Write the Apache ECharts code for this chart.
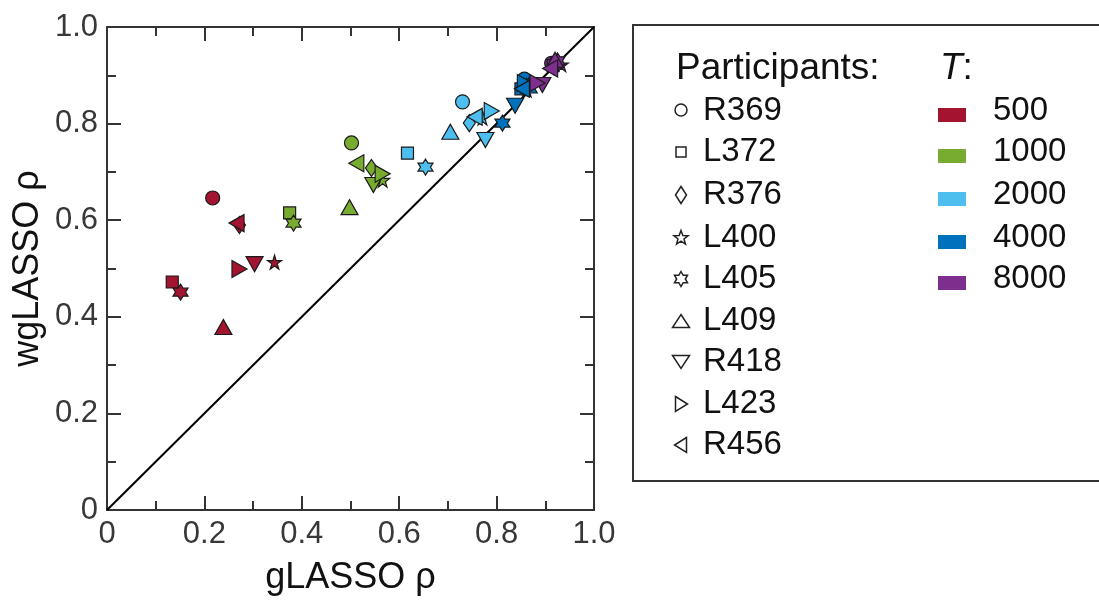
<!DOCTYPE html>
<html>
<head>
<meta charset="utf-8">
<script src="https://cdn.jsdelivr.net/npm/echarts@6/dist/echarts.min.js"></script>
<style>
html,body{margin:0;padding:0;background:#fff;}
#chart{width:1099px;height:604px;}
</style>
</head>
<body>
<div id="chart"></div>
<script>
// ---- data ----
const participants = ['R369','L372','R376','L400','L405','L409','R418','L423','R456'];
const tLabels = ['500','1000','2000','4000','8000'];
const tColors = ['#A2142F','#77AC30','#4DBEEE','#0072BD','#7E2F8E'];
const tickLabels = ['0','0.2','0.4','0.6','0.8','1.0'];

// gLASSO rho (x) and wgLASSO rho (y) per T, ordered as participants
const gT500  = [0.217,0.134,0.272,0.344,0.151,0.239,0.303,0.272,0.266];
const wT500  = [0.646,0.472,0.590,0.513,0.451,0.379,0.509,0.499,0.594];
const gT1000 = [0.502,0.375,0.543,0.566,0.383,0.498,0.547,0.566,0.512];
const wT1000 = [0.760,0.615,0.708,0.683,0.594,0.627,0.673,0.696,0.718];
const gT2000 = [0.730,0.617,0.744,0.771,0.654,0.705,0.777,0.790,0.755];
const wT2000 = [0.845,0.739,0.801,0.812,0.710,0.783,0.766,0.826,0.814];
const gT4000 = [0.857,0.850,0.862,0.862,0.812,0.866,0.838,0.858,0.852];
const wT4000 = [0.892,0.872,0.876,0.870,0.801,0.879,0.837,0.884,0.872];
const gT8000 = [0.913,0.916,0.918,0.933,0.925,0.920,0.894,0.884,0.910];
const wT8000 = [0.925,0.920,0.918,0.922,0.930,0.932,0.880,0.884,0.914];

const gAll = [gT500,gT1000,gT2000,gT4000,gT8000];
const wAll = [wT500,wT1000,wT2000,wT4000,wT8000];

// ---- marker shapes ----
const STAR5 = 'path://M50 0 L61.23 34.55 L97.55 34.55 L68.16 55.9 L79.39 90.45 L50 69.1 L20.61 90.45 L31.84 55.9 L2.45 34.55 L38.77 34.55 Z';
const STAR6 = 'path://M50 0 L64.43 25 L93.3 25 L78.87 50 L93.3 75 L64.43 75 L50 100 L35.57 75 L6.7 75 L21.13 50 L6.7 25 L35.57 25 Z';
const TRI_UP = 'path://M50 0 L100 86 L0 86 Z';
const TRI_DN = 'path://M0 0 L100 0 L50 86 Z';
const TRI_RT = 'path://M0 0 L86 50 L0 100 Z';
const TRI_LT = 'path://M86 0 L0 50 L86 100 Z';
const symbols = ['circle','rect','diamond',STAR5,STAR6,TRI_UP,TRI_DN,TRI_RT,TRI_LT];
const sizes = [[14,14],[12,12],[12,17],[14,14],[15,16],[17,15],[17,15],[15,17],[15,17]];

const FONT = '"Liberation Sans", Arial, sans-serif';

const series = tLabels.map((t, ti) => ({
  name: t,
  type: 'scatter',
  z: 3 + ti,
  data: participants.map((p, pi) => ({
    value: [gAll[ti][pi], wAll[ti][pi]],
    name: p,
    symbol: symbols[pi],
    symbolSize: sizes[pi]
  })),
  itemStyle: { color: tColors[ti], borderColor: '#1a1a1a', borderWidth: 1.2, opacity: 1 }
}));

series.unshift({
  type: 'line',
  data: [[0,0],[1,1]],
  symbol: 'none',
  z: 2,
  lineStyle: { color: '#000', width: 2 },
  silent: true
});

function axisCommon(pos, showLabel, margin) {
  return {
    type: 'value', min: 0, max: 1, interval: 0.2, position: pos,
    axisLine: { show: true, onZero: false, lineStyle: { color: '#333', width: 2 } },
    axisTick: { show: true, inside: true, length: 14, lineStyle: { color: '#333', width: 2 } },
    minorTick: { show: true, splitNumber: 2, length: 9, lineStyle: { color: '#333', width: 2 } },
    splitLine: { show: false },
    axisLabel: {
      show: showLabel, color: '#383838', fontSize: 31, fontFamily: FONT, margin: margin,
      formatter: v => tickLabels[Math.round(v / 0.2)]
    }
  };
}

const xMain = Object.assign(axisCommon('bottom', true, 9), {
  name: 'gLASSO ρ', nameLocation: 'middle', nameGap: 50,
  nameTextStyle: { fontSize: 36, color: '#111', fontFamily: FONT }
});
const yMain = Object.assign(axisCommon('left', true, 9), {
  name: 'wgLASSO ρ', nameLocation: 'middle', nameGap: 61,
  nameTextStyle: { fontSize: 36, color: '#111', fontFamily: FONT }
});

// ---- legend via graphic ----
const graphics = [];
const LX = 633, LY = 25;
graphics.push({ type: 'rect', shape: { x: LX, y: LY, width: 500, height: 456 },
  style: { fill: '#fff', stroke: '#333', lineWidth: 2 }, z: 0 });
graphics.push({ type: 'text', x: 676, y: 69,
  style: { text: 'Participants:', fontSize: 37, fontFamily: FONT, fill: '#111', verticalAlign: 'middle' } });
graphics.push({ type: 'text', x: 940, y: 69,
  style: { text: '{i|T}:', fontSize: 37, fontFamily: FONT, fill: '#111', verticalAlign: 'middle',
    rich: { i: { fontStyle: 'italic', fontSize: 37, fontFamily: FONT, fill: '#111' } } } });

const rowY = [111,152,195,238,279,321,362,404,445];
function legendPoly(sym, cx, cy, s) {
  const st = { fill: 'none', stroke: '#222', lineWidth: 1.5 };
  const h = s / 2;
  if (sym === 0) return { type: 'circle', shape: { cx, cy: cy - 1, r: h - 1.5 }, style: st };
  if (sym === 1) return { type: 'rect', shape: { x: cx - 5, y: cy - 5, width: 10, height: 10 }, style: st };
  let pts;
  if (sym === 2) pts = [[cx, cy - h - 1],[cx + h - 2, cy],[cx, cy + h + 1],[cx - h + 2, cy]];
  else if (sym === 3 || sym === 4) {
    pts = [];
    const n = sym === 3 ? 5 : 6, R = h, r = sym === 3 ? h * 0.42 : h * 0.577;
    for (let k = 0; k < 2 * n; k++) {
      const a = -Math.PI / 2 + k * Math.PI / n;
      const rr = k % 2 === 0 ? R : r;
      pts.push([cx + rr * Math.cos(a), cy + rr * Math.sin(a)]);
    }
  }
  else if (sym === 5) pts = [[cx, cy - h + 1],[cx + h + 1, cy + h - 1],[cx - h - 1, cy + h - 1]];
  else if (sym === 6) pts = [[cx - h - 1, cy - h + 1],[cx + h + 1, cy - h + 1],[cx, cy + h - 1]];
  else if (sym === 7) pts = [[cx - h + 2, cy - h],[cx + h - 1, cy],[cx - h + 2, cy + h]];
  else pts = [[cx + h - 2, cy - h],[cx - h + 1, cy],[cx + h - 2, cy + h]];
  return { type: 'polygon', shape: { points: pts }, style: st };
}
participants.forEach((p, i) => {
  graphics.push(legendPoly(i, 681, rowY[i], 15));
  graphics.push({ type: 'text', x: 703, y: rowY[i],
    style: { text: p, fontSize: 33, fontFamily: FONT, fill: '#111', verticalAlign: 'middle' } });
});
tLabels.forEach((t, i) => {
  graphics.push({ type: 'rect', shape: { x: 938, y: rowY[i] - 3, width: 28, height: 14 },
    style: { fill: tColors[i] } });
  graphics.push({ type: 'text', x: 993, y: rowY[i],
    style: { text: t, fontSize: 33, fontFamily: FONT, fill: '#111', verticalAlign: 'middle' } });
});

const chart = echarts.init(document.getElementById('chart'), null, { renderer: 'canvas' });
chart.setOption({
  animation: false,
  backgroundColor: '#fff',
  textStyle: { fontFamily: FONT },
  grid: { left: 107, top: 27, right: 505, bottom: 94, containLabel: false },
  xAxis: [xMain, axisCommon('top', false, 9)],
  yAxis: [yMain, axisCommon('right', false, 9)],
  series: series,
  graphic: graphics
});
</script>
</body>
</html>
